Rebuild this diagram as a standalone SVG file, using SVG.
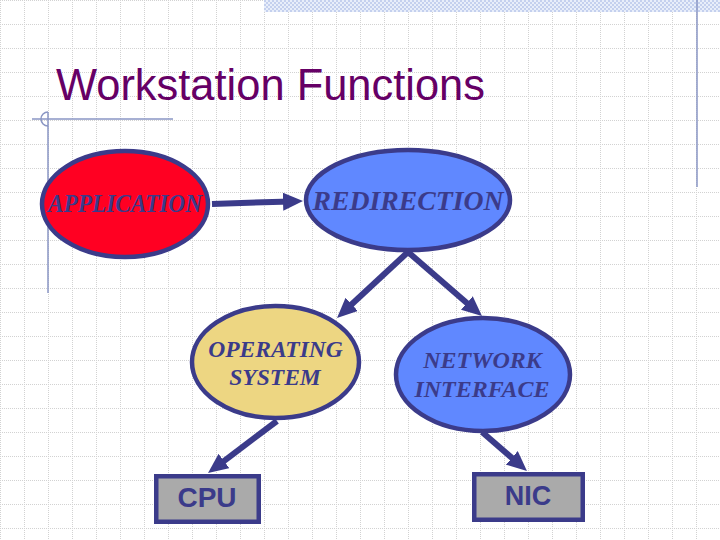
<svg xmlns="http://www.w3.org/2000/svg" width="720" height="540" viewBox="0 0 720 540">
  <style>
    .node { stroke: #3b3b8a; stroke-width: 4.5; }
    .lbl { font-family: "Liberation Serif", "Times New Roman", serif; font-weight: bold; font-style: italic; fill: #3b3b8a; text-anchor: middle; }
    .box { font-family: "Liberation Sans", Arial, sans-serif; font-weight: bold; fill: #3b3b8a; text-anchor: middle; }
    .conn { stroke: #3b3b8a; stroke-width: 6; fill: none; marker-end: url(#arrow); }
    .grid { stroke: #d2d2d2; stroke-width: 1; stroke-dasharray: 1 1; }
    .deco { stroke: #8a96c4; stroke-width: 1.5; fill: none; }
  </style>
  <defs>
    <marker id="arrow" viewBox="0 0 20 18" refX="8" refY="9" markerWidth="20" markerHeight="18" markerUnits="userSpaceOnUse" orient="auto">
      <path d="M0,0 L20,9 L0,18 z" fill="#3b3b8a"/>
    </marker>
    <pattern id="grid" width="24" height="24" patternUnits="userSpaceOnUse">
      <line class="grid" x1="0" y1="0.5" x2="24" y2="0.5"/>
      <line class="grid" x1="0.5" y1="0" x2="0.5" y2="24"/>
    </pattern>
    <pattern id="checker" width="4" height="4" patternUnits="userSpaceOnUse">
      <rect width="4" height="4" fill="#e8eefa"/>
      <rect width="2" height="2" fill="#c4d0ee"/>
      <rect x="2" y="2" width="2" height="2" fill="#c4d0ee"/>
    </pattern>
  </defs>

  <rect width="720" height="540" fill="#ffffff"/>
  <rect width="720" height="540" fill="url(#grid)"/>

  <!-- decorations -->
  <rect x="264" y="0" width="456" height="12" fill="url(#checker)"/>
  <line class="deco" x1="697" y1="0" x2="697" y2="187"/>
  <line class="deco" x1="32" y1="119" x2="173" y2="119"/>
  <line class="deco" x1="48" y1="112" x2="48" y2="293"/>
  <path class="deco" d="M48,112 A7,7 0 0 0 48,126"/>

  <text x="56" y="100" font-family="Liberation Sans, Arial, sans-serif" font-size="44" fill="#660066" textLength="429" lengthAdjust="spacingAndGlyphs">Workstation Functions</text>

  <g id="connectors">
    <path class="conn" d="M212,204 L291,201.4"/>
    <path class="conn" d="M408,252 L345.8,309.8"/>
    <path class="conn" d="M408,252 L472.9,308.2"/>
    <path class="conn" d="M277,421 L217.6,465.8"/>
    <path class="conn" d="M482,432 L517.9,463.1"/>
  </g>

  <g id="application">
    <ellipse class="node" cx="125" cy="204" rx="83" ry="53" fill="#ff0022"/>
    <text class="lbl" x="125" y="212" font-size="26" textLength="154" lengthAdjust="spacingAndGlyphs">APPLICATION</text>
  </g>

  <g id="redirection">
    <ellipse class="node" cx="408" cy="200" rx="102" ry="50" fill="#6088ff"/>
    <text class="lbl" x="408" y="210" font-size="28" textLength="191" lengthAdjust="spacingAndGlyphs">REDIRECTION</text>
  </g>

  <g id="operating-system">
    <ellipse class="node" cx="275.5" cy="362" rx="83.5" ry="56" fill="#edd682"/>
    <text class="lbl" x="275.5" y="357" font-size="23.5">OPERATING</text>
    <text class="lbl" x="275" y="385" font-size="23.5">SYSTEM</text>
  </g>

  <g id="network-interface">
    <ellipse class="node" cx="483" cy="374.5" rx="87" ry="56.5" fill="#6088ff"/>
    <text class="lbl" x="482.5" y="368" font-size="24">NETWORK</text>
    <text class="lbl" x="482" y="397" font-size="24">INTERFACE</text>
  </g>

  <g id="cpu">
    <rect class="node" x="156.25" y="476.25" width="102.5" height="45.5" fill="#aaaaaa"/>
    <text class="box" x="207" y="507" font-size="28">CPU</text>
  </g>

  <g id="nic">
    <rect class="node" x="474.25" y="474.25" width="108.5" height="45.5" fill="#aaaaaa"/>
    <text class="box" x="528" y="505" font-size="27">NIC</text>
  </g>
</svg>
